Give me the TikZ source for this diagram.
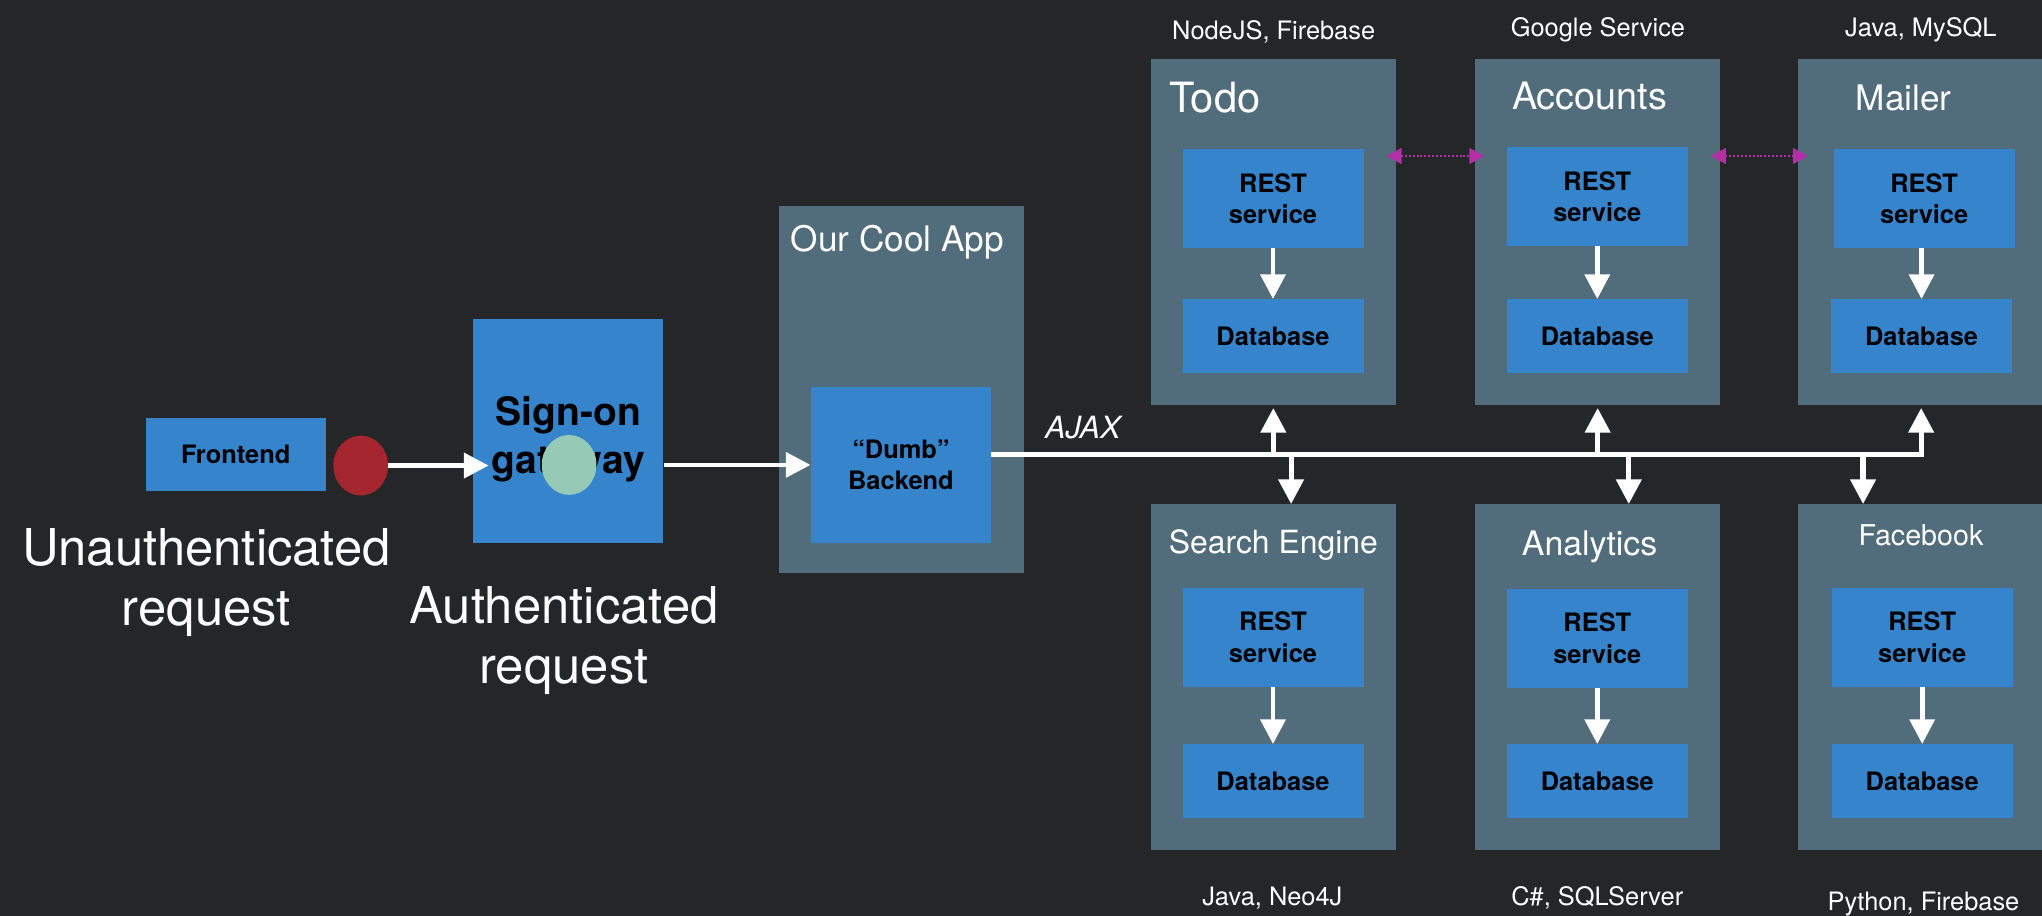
\documentclass[tikz,border=0pt]{standalone}
\usepackage{fontspec}
\setmainfont{TeX Gyre Heros}
\usepackage{tikz}
\usepackage{xcolor}
\usetikzlibrary{arrows.meta,shapes.geometric}

\definecolor{bgdark}{HTML}{252628}
\definecolor{slate}{HTML}{516C7B}
\definecolor{svcblue}{HTML}{3584CC}
\definecolor{tokred}{HTML}{A6262F}
\definecolor{tokgreen}{HTML}{97CAB6}
\definecolor{linkpink}{HTML}{B22FA5}

\begin{document}
\begin{tikzpicture}[x=1pt, y=-1pt,
        box/.style={fill=slate, inner sep=0pt, minimum width=188.5pt, minimum height=265.5pt},
        svc/.style={fill=svcblue, inner sep=0pt, minimum width=139pt, align=center, font=\fontsize{19.5}{24.3}\selectfont\bfseries},
        restbox/.style={svc, minimum height=75.5pt},
        dbbox/.style={svc, minimum height=57pt},
        token/.style={ellipse, inner sep=0pt, minimum width=42pt, minimum height=46pt},
        title/.style={text=white, anchor=base, inner sep=0pt},
        tech/.style={title, font=\fontsize{19.5}{23}\selectfont},
        note/.style={text=white, align=center, inner sep=0pt, font=\fontsize{39}{46}\selectfont},
        flow/.style={white, line width=3.6pt, -{Triangle[length=19pt, width=19pt]}},
        tap/.style={white, line width=4pt, -{Triangle[length=19pt, width=19pt]}},
        bus/.style={white, line width=4pt},
        link/.style={linkpink, line width=1.8pt, dash pattern=on 1.5pt off 1.5pt, {Triangle[length=11.5pt, width=12pt]}-{Triangle[length=11.5pt, width=12pt]}, shorten <=-7.5pt, shorten >=-7.5pt}]
        \useasboundingbox (0,0) rectangle (1568,703);
        \fill[bgdark] (0,0) rectangle (1568,703);

        \node (app) at (692, 299) [box, minimum width=188pt, minimum height=282pt] {};
        \node (todo) at (977.75, 178.3) [box] {};
        \node (accounts) at (1226.8, 178.3) [box] {};
        \node (mailer) at (1475.2, 178.3) [box] {};
        \node (search) at (977.75, 520) [box] {};
        \node (analytics) at (1226.8, 520) [box] {};
        \node (facebook) at (1475.2, 520) [box] {};

        \node (todorest) at (977.5, 152.5) [restbox] {REST\\service};
        \node (tododb) at (977.5, 258.3) [dbbox] {Database};
        \node (accrest) at (1226.5, 151) [restbox] {REST\\service};
        \node (accdb) at (1226.5, 258.3) [dbbox] {Database};
        \node (mailrest) at (1477.5, 152.5) [restbox] {REST\\service};
        \node (maildb) at (1475.5, 258.3) [dbbox] {Database};
        \node (searchrest) at (977.5, 489.5) [restbox] {REST\\service};
        \node (searchdb) at (977.5, 600) [dbbox] {Database};
        \node (anarest) at (1226.5, 490.2) [restbox] {REST\\service};
        \node (anadb) at (1226.5, 600) [dbbox] {Database};
        \node (fbrest) at (1476, 489.5) [restbox] {REST\\service};
        \node (fbdb) at (1476, 600) [dbbox] {Database};

        \node (frontend) at (181, 349) [svc, minimum width=138pt, minimum height=56pt] {Frontend};
        \node (gateway) at (436.4, 331.2) [svc, minimum width=146pt, minimum height=172pt] {};
        \node (gwlabel) at ([yshift=-6pt]gateway.center) [svc, fill=none, minimum width=0pt, font=\fontsize{30}{37}\selectfont\bfseries] {Sign-on\\gateway};
        \node (backend) at (691.8, 357) [svc, minimum width=138.5pt, minimum height=120pt] {“Dumb”\\Backend};

        \node (appname) at (689, 193.3) [title, font=\fontsize{27}{32}\selectfont] {Our Cool App};
        \node (todoname) at (897.6, 86.5) [title, anchor=base west, font=\fontsize{32}{38}\selectfont] {Todo};
        \node (accname) at (1220.6, 84) [title, font=\fontsize{29}{35}\selectfont] {Accounts};
        \node (mailname) at (1461.75, 85) [title, font=\fontsize{27}{32}\selectfont] {Mailer};
        \node (searchname) at (977.75, 425) [title, font=\fontsize{24.5}{29}\selectfont] {Search Engine};
        \node (ananame) at (1220.6, 426.2) [title, font=\fontsize{26}{31}\selectfont] {Analytics};
        \node (fbname) at (1475, 418.6) [title, font=\fontsize{22}{26}\selectfont] {Facebook};

        \node (todotech) at (978, 30.2) [tech] {NodeJS, Firebase};
        \node (acctech) at (1227, 28) [tech] {Google Service};
        \node (mailtech) at (1475, 28) [tech] {Java, MySQL};
        \node (searchtech) at (977, 695) [tech] {Java, Neo4J};
        \node (anatech) at (1226.5, 695) [tech] {C\#, SQLServer};
        \node (fbtech) at (1477, 698.8) [tech] {Python, Firebase};

        \node (ajax) at (831.5, 336.6) [title, font=\fontsize{23.5}{28}\selectfont\itshape] {AJAX};
        \node (unauthlbl) at (158.5, 447.6) [note] {Unauthenticated\\request};
        \node (authlbl) at (433, 491.8) [note] {Authenticated\\request};

        \draw[flow] (todorest) -- (tododb);
        \draw[flow] (accrest) -- (accdb);
        \draw[flow] (mailrest.south -| maildb) -- (maildb);
        \draw[flow] (searchrest) -- (searchdb);
        \draw[flow] (anarest) -- (anadb);
        \draw[flow] (fbrest) -- (fbdb);

        \draw[link] ([yshift=58.5pt]todo.east) -- ([yshift=58.5pt]accounts.west);
        \draw[link] ([yshift=58.5pt]accounts.east) -- ([yshift=58.5pt]mailer.west);

        \node (unauth) at (277, 357.5) [token, fill=tokred] {};
        \draw[flow, shorten >=-12pt] (unauth.east) -- (unauth -| gateway.west);
        \draw[flow] (backend -| gateway.east) -- (backend.west);
        \node (auth) at (437, 357) [token, fill=tokgreen] {};

        \draw[bus] ([yshift=8pt]backend.east) -- ++(716,0) coordinate (busend);
        \coordinate (tap1) at (991.4, 349);
        \coordinate (tap2) at (1250.7, 349);
        \coordinate (tap3) at (1430.6, 349);
        \draw[tap, shorten >=2pt] (todo.south |- busend) -- (todo.south);
        \draw[tap, shorten >=2pt] (accounts.south |- busend) -- (accounts.south);
        \draw[tap, shorten >=2pt] (mailer.south |- busend) -- (mailer.south);
        \draw[tap] (tap1) -- (tap1 |- search.north);
        \draw[tap] (tap2) -- (tap2 |- analytics.north);
        \draw[tap] (tap3) -- (tap3 |- facebook.north);
    \end{tikzpicture}
\end{document}
